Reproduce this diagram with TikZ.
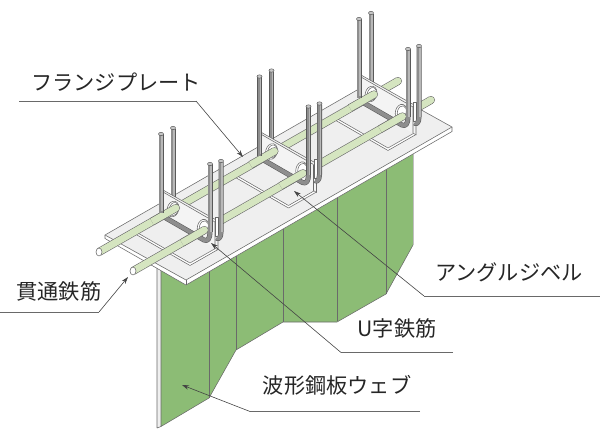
\documentclass[tikz,border=0pt]{standalone}
\usepackage{fontspec}
\usetikzlibrary{arrows.meta}
\newfontfamily\jpfont{Noto Sans CJK JP}
\definecolor{webgreen}{HTML}{8CBC75}
\definecolor{flangegray}{HTML}{EFEFEF}
\definecolor{barfill}{HTML}{D5E5C0}
\definecolor{edgegray}{HTML}{6A6A6A}
\definecolor{postfill}{HTML}{8E8E8E}
\definecolor{leadgray}{HTML}{444444}
\tikzset{
  edge/.style={draw=edgegray,line width=0.55pt,line join=round},
  label/.style={font=\jpfont\fontsize{21.2pt}{23pt}\selectfont,text=black!85,inner sep=0pt},
  leaderarrow/.style={draw=leadgray,line width=0.6pt,-{Stealth[length=7pt,width=4.5pt]}},
  leaderrule/.style={draw=leadgray!80,line width=0.9pt},
  baro/.style={draw=edgegray,line width=8pt},
  bari/.style={draw=barfill,line width=6.8pt},
  posto/.style={draw=black!65,line width=5pt,line join=round},
  posti/.style={draw=postfill,line width=3.9pt,line join=round},
  postlight/.style={draw=black!28,line width=1.3pt},
  postcap/.style={fill=black!22,draw=black!65,line width=0.5pt},
}
\newcommand{\barsegr}[2]{%
  \fill[edgegray] #2 circle (4pt);
  \draw[baro] #1 -- #2;
  \fill[barfill] #2 circle (3.4pt);
  \draw[bari] #1 -- #2;}
\newcommand{\poststroke}[1]{%
  \draw[posto] #1; \draw[posti] #1;}
\begin{document}
\begin{tikzpicture}[x=1pt,y=-1pt]
\useasboundingbox (0,0) rectangle (600,439);
% web
\fill[flangegray] (157,250) -- (157,428) -- (161,427) -- (161,250) -- cycle;
\draw[edge] (157,250) -- (157,428) -- (161,426.5);
\fill[webgreen] (161,250) -- (161,426.5) -- (209,398) -- (236,350) -- (283,322) -- (337,322)
  -- (386,294) -- (413,245) -- (413,120) -- cycle;
\draw[edge] (161,250) -- (161,426.5) -- (209,398) -- (236,350) -- (283,322) -- (337,322) -- (386,294) -- (413,245);
\draw[black!25,line width=0.9pt] (413,150) -- (413,245);
\foreach \vx/\vs/\vy in {209/269/398,236/253/350,283/226/322,337/195/321,386/167/294}
  \draw[edge] (\vx,\vs) -- (\vx,\vy);
% flange
\fill[white] (105,235) -- (105,238.5) -- (186,285) -- (452,131.5) -- (452,127) -- (186,280) -- cycle;
\draw[edge] (105,235) -- (105,238.5) -- (186,285) -- (452,131.5) -- (452,127);
\draw[edge,fill=flangegray] (105,235) -- (186,280) -- (452,127) -- (371,82) -- cycle;
\draw[edge] (186,280) -- (186,285);
% base plates
\foreach \ux/\uy in {0/0,98.5/-57.5,198/-115}{
  \begin{scope}[shift={(\ux,\uy)}]
    \fill[white] (137,235) -- (190,265.5) -- (218,249.5) -- (218,247) -- (190,263) -- (137,232.5) -- cycle;
    \draw[edge] (137,235) -- (190,265.5) -- (218,249.5);
    \draw[edge] (137,232.5) -- (190,263) -- (218,247);
  \end{scope}}
% through bars
\coordinate (rearA) at (99,252);
\coordinate (rearB) at (398,81);
\coordinate (frontA) at (133,271);
\coordinate (frontB) at (431,100);
\barsegr{(rearA)}{(rearB)}
\barsegr{(frontA)}{(frontB)}
\draw[edge,fill=white] (rearA) ellipse (3pt and 4pt);
\draw[edge,fill=white] (frontA) ellipse (3pt and 4pt);
% angle connectors with U bars
\foreach \ux/\uy/\uc in {198/-115/1.4,98.5/-57.5/0.7,0/0/0}{
  \begin{scope}[shift={(\ux,\uy)}]
    % rear legs behind the plate
    \poststroke{(173,129) -- (173,200)}
    \draw[postlight] (174.1,129) -- (174.1,198);
    % angle plate
    \fill[flangegray!70!white] (163,190) -- (218,221) -- (218,250) -- (163,218) -- cycle;
    \draw[edge] (163,218) -- (163,190) -- (218,221) -- (218,250);
    \draw[edge] (163,192) -- (215,222);
    \draw[edge] (215,222) -- (215,248) -- (218,250);
    % hook of the far U bar
    \draw[edge,fill=white] (215.5,217) rectangle (218.5,236);
    \poststroke{(221,162) -- (221,232) .. controls (221,238) and (218,240) .. (216.5,238)}
    \draw[postlight] (222.1,162) -- (222.1,232);
    % U bar bottom
    \poststroke{(165,217.5) -- (204,240) .. controls (208,242) and (210,238) .. (210,232)}
    % holes
    \draw[edge,fill=white,rotate around={-15:(173,209)}] (173,209) ellipse (5.8pt and 8pt);
    \draw[edge,fill=white,rotate around={-15:(173.8,209)}] (173.8,209) ellipse (4.6pt and 6.6pt);
    \draw[edge,fill=white,rotate around={-15:(203,227)}] (203,227) ellipse (5.6pt and 7.8pt);
    \draw[edge,fill=white,rotate around={-15:(203.8,227)}] (203.8,227) ellipse (4.4pt and 6.4pt);
    % bars in front of the plate
    \begin{scope}[yshift=-\uc pt]
      \barsegr{(152,221.7)}{(176,208)}
      \barsegr{(182,242.9)}{(204.5,230)}
    \end{scope}
    % front legs
    \poststroke{(161,134) -- (161,213)}
    \draw[postlight] (162.1,134) -- (162.1,211);
    \fill[postcap] (161,134) ellipse (2.5pt and 1.7pt);
    \fill[postcap] (173,128) ellipse (2.5pt and 1.7pt);
    \poststroke{(210,164) -- (210,232)}
    \draw[postlight] (211.1,164) -- (211.1,232);
    \fill[postcap] (210,164) ellipse (2.5pt and 1.7pt);
    \fill[postcap] (221,161) ellipse (2.5pt and 1.7pt);
  \end{scope}}
% labels
\node[label] (flangelabel) at (116,82) {フランジプレート};
\node[label] (barlabel) at (59,291) {貫通鉄筋};
\node[label] (anglelabel) at (509,272) {アングルジベル};
\node[label] (ulabel) at (397,328) {U字鉄筋};
\node[label] (weblabel) at (337,385) {波形鋼板ウェブ};
% leaders
\coordinate (flangeL) at (19,101);
\coordinate (flangeK) at (196,101);
\coordinate (flangeT) at (243,157);
\coordinate (barL) at (0,312);
\coordinate (barK) at (99,312);
\coordinate (barT) at (128,277);
\coordinate (angleL) at (600,296);
\coordinate (angleK) at (424,296);
\coordinate (angleT) at (294,191);
\coordinate (uL) at (453,352.5);
\coordinate (uK) at (341,352.5);
\coordinate (uT) at (211,243);
\coordinate (webL) at (420,411.5);
\coordinate (webK) at (250,411.5);
\coordinate (webT) at (182,385);
\foreach \n in {flange,bar,angle,u,web}{
  \draw[leaderrule] (\n L) -- (\n K);
  \draw[leaderarrow] (\n K) -- (\n T);
}
\end{tikzpicture}
\end{document}
